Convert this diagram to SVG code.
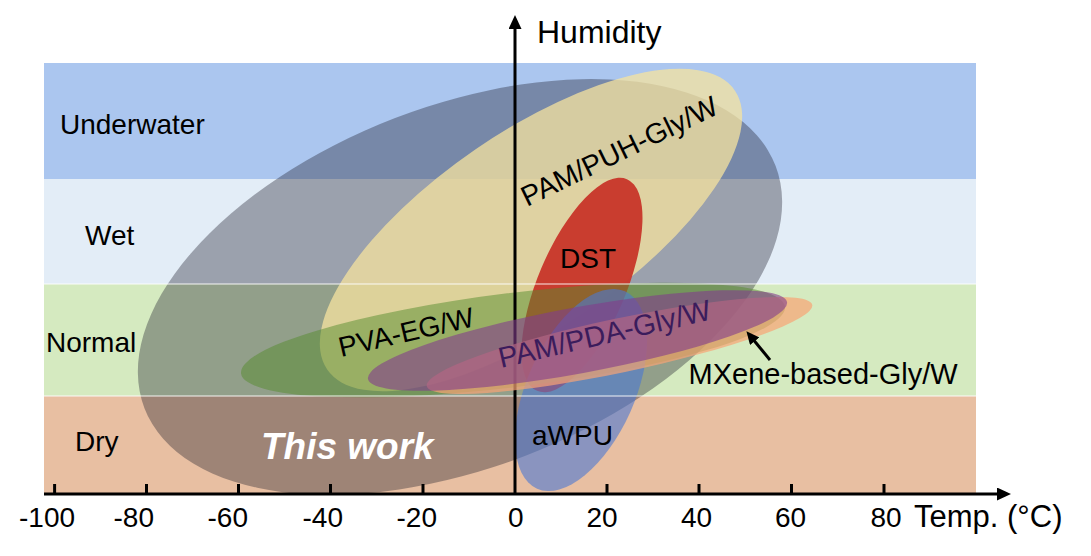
<svg xmlns="http://www.w3.org/2000/svg" width="1091" height="556" viewBox="0 0 1091 556">
<defs>
<style>
text{font-family:"Liberation Sans",Arial,sans-serif;font-size:28px;fill:#000}
.ax{stroke:#000;stroke-width:3;fill:none}
.sep{stroke:#fff;stroke-width:1.5;opacity:.6}
.tick{stroke:#000;stroke-width:3}
</style>
<marker id="ah" viewBox="0 0 14 13" refX="2" refY="6.5" markerWidth="14" markerHeight="13" markerUnits="userSpaceOnUse" orient="auto"><path d="M0,0 L14,6.5 L0,13 z" fill="#000"/></marker>
<marker id="ah2" viewBox="0 0 13 12" refX="2" refY="6" markerWidth="13" markerHeight="12" markerUnits="userSpaceOnUse" orient="auto"><path d="M0,0 L13,6 L0,12 z" fill="#000"/></marker>
</defs>
<rect width="1091" height="556" fill="#fff"/>
<g id="band-underwater"><rect x="44" y="63" width="932" height="116" fill="#abc6ef"/><text x="60" y="134">Underwater</text></g>
<g id="band-wet"><rect x="44" y="179" width="932" height="105" fill="#e3edf7"/><text x="85" y="245">Wet</text></g>
<g id="band-normal"><rect x="44" y="284" width="932" height="112" fill="#d5eac0"/><text x="46" y="352">Normal</text></g>
<g id="band-dry"><rect x="44" y="396" width="932" height="98" fill="#e8bfa2"/><text x="75" y="451">Dry</text></g>
<g id="this-work"><ellipse cx="460" cy="287" rx="338" ry="181" transform="rotate(-21 460 287)" fill="#1c1d2a" fill-opacity="0.36"/><text x="261" y="459" style="font-weight:bold;font-style:italic;font-size:37px;fill:#fff">This work</text></g>
<g id="pam-puh"><ellipse cx="531" cy="230" rx="247" ry="98" transform="rotate(-34.4 531 230)" fill="#f5e39f" fill-opacity="0.75"/><text x="527" y="207" transform="rotate(-26 527 207)" style="font-size:28.5px">PAM/PUH-Gly/W</text></g>
<g id="dst"><ellipse cx="582" cy="285" rx="115" ry="44" transform="rotate(-67 582 285)" fill="#c8382b" fill-opacity="0.97"/><text x="560" y="268">DST</text></g>
<g id="pva-eg"><ellipse cx="513" cy="340" rx="274" ry="47" transform="rotate(-7 513 340)" fill="#558c2d" fill-opacity="0.5"/><text x="341" y="357" transform="rotate(-13 341 357)">PVA-EG/W</text></g>
<g id="awpu"><ellipse cx="581" cy="390" rx="108" ry="54" transform="rotate(-66 581 390)" fill="#4b78d2" fill-opacity="0.6"/><text x="532" y="445">aWPU</text></g>
<g id="separators"><line class="sep" x1="44" y1="284" x2="976" y2="284"/><line class="sep" x1="44" y1="396" x2="976" y2="396"/></g>
<g id="axes">
<line class="ax" x1="515" y1="494" x2="515" y2="27" marker-end="url(#ah)"/>
<line class="ax" x1="44" y1="494" x2="999" y2="494" marker-end="url(#ah)"/>
<line class="tick" x1="54.6" y1="484" x2="54.6" y2="494"/>
<line class="tick" x1="146.5" y1="484" x2="146.5" y2="494"/>
<line class="tick" x1="238.5" y1="484" x2="238.5" y2="494"/>
<line class="tick" x1="330.5" y1="484" x2="330.5" y2="494"/>
<line class="tick" x1="423" y1="484" x2="423" y2="494"/>
<line class="tick" x1="607" y1="484" x2="607" y2="494"/>
<line class="tick" x1="699" y1="484" x2="699" y2="494"/>
<line class="tick" x1="791.5" y1="484" x2="791.5" y2="494"/>
<line class="tick" x1="884" y1="484" x2="884" y2="494"/>
<text x="537" y="43" style="font-size:32px">Humidity</text>
<text x="914" y="527" style="font-size:31px">Temp. (°C)</text>
<text x="19" y="527">-100</text>
<text x="113.5" y="527">-80</text>
<text x="207.5" y="527">-60</text>
<text x="302.5" y="527">-40</text>
<text x="396.5" y="527">-20</text>
<text x="508" y="527">0</text>
<text x="586.5" y="527">20</text>
<text x="681" y="527">40</text>
<text x="775" y="527">60</text>
<text x="870.5" y="527">80</text>
</g>
<g id="mxene"><ellipse cx="619.5" cy="345.5" rx="197" ry="27" transform="rotate(-11.9 619.5 345.5)" fill="#f8a475" fill-opacity="0.7"/><text x="688.5" y="384" style="font-size:29px">MXene-based-Gly/W</text></g>
<g id="pam-pda"><ellipse cx="577.5" cy="340.5" rx="213" ry="33" transform="rotate(-10.4 577.5 340.5)" fill="#823c8c" fill-opacity="0.6"/><text x="501" y="368" transform="rotate(-13 501 368)" style="font-size:29px;fill:#3b1c5c">PAM/PDA-Gly/W</text></g>
<g id="connectors"><line class="ax" x1="770" y1="360" x2="753.4" y2="339.7" marker-end="url(#ah2)"/></g>
</svg>
